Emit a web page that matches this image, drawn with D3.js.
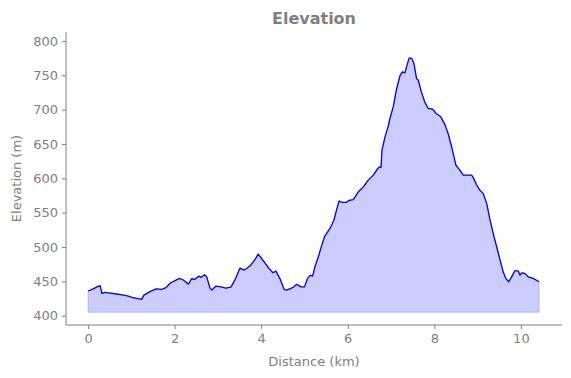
<!DOCTYPE html>
<html lang="en">
<head>
<meta charset="utf-8">
<title>Elevation</title>
<script src="https://d3js.org/d3.v7.min.js"></script>
<style>
  body { margin: 0; background: white; }
  text { font-family: "DejaVu Sans", sans-serif; fill: #808080; }
</style>
</head>
<body>
<svg width="571" height="378"></svg>
<script>
// distance along the track (km) and elevation (m)
const distance = [
  0, 0.12, 0.24, 0.28, 0.32, 0.39, 0.51, 0.66, 0.82, 0.93,
  1.01, 1.12, 1.24, 1.29, 1.43, 1.57, 1.70, 1.80, 1.91, 2.01,
  2.11, 2.20, 2.32, 2.39, 2.47, 2.56, 2.61, 2.69, 2.74, 2.82,
  2.86, 2.95, 3.07, 3.18, 3.30, 3.40, 3.51, 3.61, 3.74, 3.86,
  3.93, 4.05, 4.18, 4.27, 4.34, 4.43, 4.53, 4.59, 4.74, 4.82,
  4.92, 5.00, 5.07, 5.13, 5.19, 5.24, 5.32, 5.40, 5.47, 5.59,
  5.68, 5.74, 5.80, 5.86, 5.97, 6.03, 6.13, 6.24, 6.36, 6.47,
  6.59, 6.69, 6.74, 6.77, 6.79, 6.86, 6.94, 6.97, 7.05, 7.13,
  7.21, 7.26, 7.32, 7.37, 7.42, 7.48, 7.53, 7.59, 7.63, 7.70,
  7.78, 7.86, 7.96, 8.05, 8.15, 8.25, 8.32, 8.40, 8.50, 8.59,
  8.67, 8.78, 8.86, 8.90, 8.98, 9.05, 9.13, 9.21, 9.28, 9.36,
  9.44, 9.51, 9.59, 9.65, 9.72, 9.78, 9.86, 9.94, 9.98, 10.02,
  10.09, 10.17, 10.28, 10.42
];
const elevation = [
  436, 439, 443, 443.6, 432.6, 434, 433, 431.6, 430, 428.6,
  426.8, 425.3, 423.8, 430, 435, 439, 438.4, 441, 448, 451,
  454.4, 452, 446, 453.8, 453, 457.7, 455.8, 459.7, 456.8, 439.8,
  437.4, 443, 442, 440.3, 441.7, 453, 469.4, 466.5, 472.3, 482,
  489.7, 480, 469, 462.5, 465, 454.4, 438.4, 437.4, 441.3, 445.7,
  442, 442, 454.4, 458.8, 457.7, 471, 485.8, 502.8, 516, 527,
  539, 553.8, 567, 565, 565, 568, 569, 580, 587.6, 597,
  604.7, 614, 616.7, 616, 641, 660, 677, 686, 704, 730.8,
  750, 755, 753.5, 764.7, 775.3, 774.4, 767, 745, 742.8, 725.8,
  711, 701.7, 700.6, 694, 689.5, 677.4, 665, 646, 619, 612,
  604.7, 604.7, 604.7, 601, 590, 582.8, 578, 563.5, 541.7, 519.9,
  500.4, 483.5, 464, 454.4, 449.5, 455.8, 465.5, 465, 459, 462.5,
  461.7, 456.7, 454.4, 449.5
];
const fillBase = 405;
const xTicks = [0, 2, 4, 6, 8, 10];
const yTicks = [400, 450, 500, 550, 600, 650, 700, 750, 800];

const svg = d3.select("svg");
const mLeft = 66, mRight = 562, mTop = 32, mBottom = 325;

const x = d3.scaleLinear().domain([-0.51, 10.95]).range([mLeft, mRight]);
const y = d3.scaleLinear().domain([386.5, 813]).range([mBottom, mTop]);

const pts = distance.map((d, i) => ({ d: d, e: elevation[i] }));

// filled area under the profile
svg.append("path")
   .datum(pts)
   .attr("d", d3.area().x(p => x(p.d)).y0(y(fillBase)).y1(p => y(p.e)))
   .style("fill", "rgba(0,0,255,0.2)")
   .style("stroke", "rgba(0,0,255,0.2)")
   .style("stroke-width", 1);

// profile line
svg.append("path")
   .datum(pts)
   .attr("d", d3.line().x(p => x(p.d)).y(p => y(p.e)))
   .style("fill", "none")
   .style("stroke", "#0000ff")
   .style("stroke-width", 1.3)
   .style("stroke-linejoin", "round");

// axes
const xAxis = svg.append("g")
   .attr("transform", `translate(0,${mBottom})`)
   .call(d3.axisBottom(x).tickValues(xTicks).tickSize(4).tickPadding(5));
const yAxis = svg.append("g")
   .attr("transform", `translate(${mLeft},0)`)
   .call(d3.axisLeft(y).tickValues(yTicks).tickSize(4).tickPadding(4));

[xAxis, yAxis].forEach(g => {
  g.select(".domain").style("stroke", "#808080").style("stroke-width", 1);
  g.selectAll(".tick line").style("stroke", "#808080");
  g.selectAll(".tick text").style("font-size", "13px").style("fill", "#808080")
   .style("font-family", "'DejaVu Sans', sans-serif");
});
xAxis.select(".domain").attr("d", `M${mLeft},0H${mRight}`);
yAxis.select(".domain").attr("d", `M0,${mTop}V${mBottom}`);

// labels
svg.append("text")
   .attr("x", (mLeft + mRight) / 2).attr("y", 24)
   .attr("text-anchor", "middle")
   .style("font-size", "16px").style("font-weight", "bold")
   .text("Elevation");

svg.append("text")
   .attr("x", (mLeft + mRight) / 2).attr("y", 366)
   .attr("text-anchor", "middle")
   .style("font-size", "13px")
   .text("Distance (km)");

svg.append("text")
   .attr("transform", `translate(21,${(mTop + mBottom) / 2}) rotate(-90)`)
   .attr("text-anchor", "middle")
   .style("font-size", "13px")
   .text("Elevation (m)");
</script>
</body>
</html>
